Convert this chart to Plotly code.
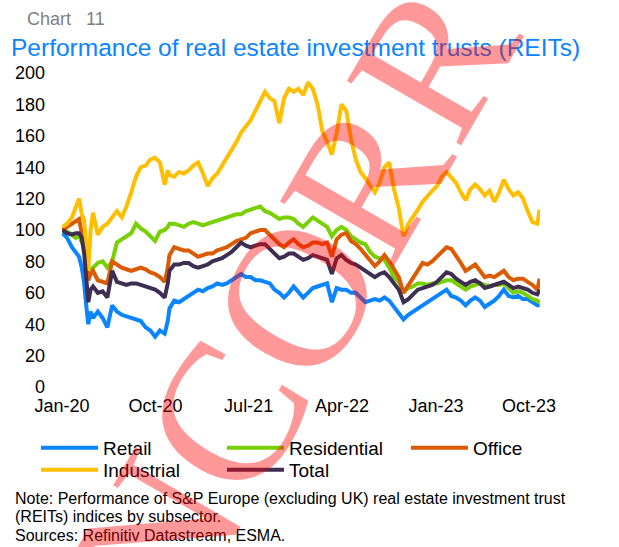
import plotly.graph_objects as go

dates = [
    "2020-01-02", "2020-01-16", "2020-01-30", "2020-02-10", "2020-02-20", "2020-02-28",
    "2020-03-06", "2020-03-12", "2020-03-18", "2020-03-25", "2020-04-01", "2020-04-15",
    "2020-04-29", "2020-05-13", "2020-05-27", "2020-06-10", "2020-06-24", "2020-07-08",
    "2020-07-22", "2020-08-05", "2020-08-19", "2020-09-02", "2020-09-16", "2020-09-30",
    "2020-10-14", "2020-10-28", "2020-11-06", "2020-11-11", "2020-11-25", "2020-12-09",
    "2020-12-23",
    "2021-01-06", "2021-01-20", "2021-02-03", "2021-02-17", "2021-03-03", "2021-03-17",
    "2021-03-31", "2021-04-14", "2021-04-28", "2021-05-12", "2021-05-26", "2021-06-09",
    "2021-06-23", "2021-07-07", "2021-07-21", "2021-08-04", "2021-08-18", "2021-09-01",
    "2021-09-15", "2021-09-29", "2021-10-13", "2021-10-27", "2021-11-10", "2021-11-24",
    "2021-12-08", "2021-12-22",
    "2022-01-05", "2022-01-19", "2022-02-02", "2022-02-16", "2022-03-02", "2022-03-16",
    "2022-03-30", "2022-04-13", "2022-04-27", "2022-05-11", "2022-05-25", "2022-06-08",
    "2022-06-22", "2022-07-06", "2022-07-20", "2022-08-03", "2022-08-17", "2022-08-31",
    "2022-09-14", "2022-09-28", "2022-10-12", "2022-10-26", "2022-11-09", "2022-11-23",
    "2022-12-07", "2022-12-21",
    "2023-01-04", "2023-01-18", "2023-02-01", "2023-02-15", "2023-03-01", "2023-03-15",
    "2023-03-29", "2023-04-12", "2023-04-26", "2023-05-10", "2023-05-24", "2023-06-07",
    "2023-06-21", "2023-07-05", "2023-07-19", "2023-08-02", "2023-08-16", "2023-08-30",
    "2023-09-13", "2023-09-27", "2023-10-11", "2023-10-25", "2023-11-01",
]

retail = [
    98, 95, 89, 86, 83, 76, 66, 52, 40, 48, 44, 48, 44, 38, 52, 48, 46, 45, 44, 43,
    42, 38, 36, 32, 36, 34, 42, 50, 55, 54, 56,
    58, 60, 62, 61, 63, 64, 66, 65, 66, 68, 70, 72, 70, 70, 68, 68, 67, 66, 62, 60,
    57, 60, 64, 60, 57, 60,
    63, 64, 65, 66, 54, 63, 62, 62, 60, 60, 57, 54, 55, 56, 55, 57, 55, 51, 48, 43,
    46, 48, 50, 52, 54, 56,
    58, 60, 62, 58, 57, 55, 52, 55, 57, 55, 51, 53, 55, 58, 62, 58, 57, 58, 56, 56,
    54, 52, 52,
]

residential = [
    100, 99, 97, 95, 97, 92, 90, 80, 74, 75, 76, 79, 80, 76, 80, 92, 94, 96, 98, 104,
    101, 99, 96, 93, 99, 100, 102, 104, 104, 103, 102,
    104, 105, 104, 103, 104, 105, 106, 107, 108, 109, 110, 110, 112, 113, 114, 115, 112,
    111, 109, 107, 108, 108, 107, 104, 102, 105,
    108, 106, 104, 102, 96, 100, 102, 100, 96, 94, 92, 91, 86, 83, 82, 81, 76, 70, 67,
    61, 63, 64, 66, 66, 65, 66,
    66, 67, 68, 68, 66, 64, 62, 64, 65, 66, 65, 64, 65, 65, 66, 63, 60, 61, 60, 58,
    56, 55, 54,
]

office = [
    100, 102, 104, 106, 107, 98, 95, 80, 68, 72, 74, 68, 67, 66, 80, 78, 76, 75, 74, 75,
    76, 75, 73, 72, 70, 67, 76, 84, 89, 88, 87,
    87, 85, 83, 84, 85, 85, 87, 88, 89, 91, 93, 94, 95, 98, 99, 100, 100, 97, 94, 91,
    89, 92, 94, 91, 89, 90,
    92, 92, 91, 92, 83, 94, 97, 98, 93, 91, 88, 84, 80, 77, 80, 84, 80, 75, 70, 60,
    65, 70, 75, 79, 78, 80,
    83, 86, 89, 88, 84, 79, 74, 76, 78, 74, 70, 71, 70, 72, 74, 70, 68, 69, 69, 67,
    65, 62, 69,
]

industrial = [
    102, 104, 108, 115, 120, 110, 106, 90, 74, 100, 111, 97, 102, 104, 108, 112, 108,
    115, 124, 134, 140, 141, 145, 146, 143, 129, 138, 135, 134, 137, 136,
    138, 141, 143, 136, 128, 133, 136, 141, 146, 150, 156, 162, 166, 170, 176, 182, 188,
    184, 182, 168, 184, 190, 188, 190, 186, 194,
    190, 180, 163, 156, 148, 162, 180, 176, 158, 145, 137, 133, 128, 124, 130, 140, 143,
    126, 114, 96, 104, 108, 113, 118, 122, 125,
    128, 134, 137, 133, 130, 124, 119, 126, 129, 126, 122, 125, 118, 124, 132, 126, 122,
    124, 120, 112, 105, 104, 113,
]

total = [
    100, 98, 97, 98, 98, 95, 85, 68, 54, 62, 64, 60, 61, 57, 74, 67, 66, 65, 66, 66,
    65, 64, 63, 62, 60, 57, 66, 74, 78, 78, 79,
    79, 77, 76, 77, 78, 80, 81, 82, 84, 86, 89, 92, 90, 89, 90, 91, 91, 88, 85, 82,
    83, 85, 85, 83, 81, 82,
    84, 83, 82, 81, 72, 82, 84, 81, 79, 78, 76, 74, 72, 70, 72, 73, 70, 66, 62, 54,
    56, 59, 62, 63, 64, 65,
    67, 70, 73, 72, 69, 67, 65, 67, 68, 66, 63, 64, 65, 66, 67, 65, 63, 64, 63, 62,
    60, 59, 62,
]

series_names = ["Retail", "Residential", "Office", "Industrial", "Total"]
series_values = [retail, residential, office, industrial, total]
series_colors = ["#0A84FF", "#78D000", "#DC5A00", "#FFBF00", "#3D2E52"]
series_legend = ["legend", "legend2", "legend3", "legend4", "legend5"]

tick_dates = ["2020-01-01", "2020-10-01", "2021-07-01", "2022-04-01", "2023-01-01", "2023-10-01"]
tick_labels = ["Jan-20", "Oct-20", "Jul-21", "Apr-22", "Jan-23", "Oct-23"]
y_ticks = [0, 20, 40, 60, 80, 100, 120, 140, 160, 180, 200]

FONT = "Arial, Liberation Sans, sans-serif"

fig = go.Figure()
for name, vals, col, lg in zip(series_names, series_values, series_colors, series_legend):
    fig.add_trace(go.Scatter(
        x=dates, y=vals, name=name, mode="lines", legend=lg,
        line=dict(color=col, width=4, shape="linear"),
    ))

W, H = 619, 547
L, R, T, B = 62, 79, 73, 160
pw, ph = W - L - R, H - T - B


def px(x):
    return (x - L) / pw


def py(y):
    return (H - B - y) / ph


annotations = [
    dict(text="Chart&nbsp;&nbsp;&nbsp;11", x=px(25), y=py(19), xanchor="left", yanchor="middle",
         font=dict(size=18, color="#7F7F7F", family=FONT)),
    dict(text="Performance of real estate investment trusts (REITs)", x=px(9), y=py(47),
         xanchor="left", yanchor="middle", font=dict(size=24.5, color="#0A84FF", family=FONT)),
    dict(text="Note: Performance of S&P Europe (excluding UK) real estate investment trust",
         x=px(13), y=py(498), xanchor="left", yanchor="middle",
         font=dict(size=16, color="#000000", family=FONT)),
    dict(text="(REITs) indices by subsector.", x=px(13), y=py(516), xanchor="left",
         yanchor="middle", font=dict(size=16, color="#000000", family=FONT)),
    dict(text="Sources: Refinitiv Datastream, ESMA.", x=px(13), y=py(535), xanchor="left",
         yanchor="middle", font=dict(size=16, color="#000000", family=FONT)),
]

# watermark glyphs (translucent red, diagonal)
wm = [("N", 156, 537, -60), ("C", 225, 417, -60), ("O", 295, 297, -60),
      ("R", 365, 180, -60), ("R", 433, 60, -60)]
for ch, x0, y0, ang in wm:
    annotations.append(dict(
        text=ch, x=px(x0), y=py(y0), xanchor="center", yanchor="middle", textangle=ang,
        font=dict(size=200, color="rgba(255,0,0,0.4)", family="Liberation Serif, serif"),
    ))
for a in annotations:
    a.update(xref="paper", yref="paper", showarrow=False)

legend_common = dict(orientation="h", xanchor="left", yanchor="top", itemwidth=57,
                     font=dict(size=19, family=FONT), bgcolor="rgba(0,0,0,0)")
# legend entry anchor points (left edge, top edge) in pixels
legend_pos = {"legend": (36, 429), "legend2": (222, 429), "legend3": (406, 429),
              "legend4": (36, 451), "legend5": (222, 451)}
legend_layout = {k: dict(x=px(v[0]), y=py(v[1]), **legend_common) for k, v in legend_pos.items()}

fig.update_layout(
    width=W, height=H,
    margin=dict(l=L, r=R, t=T, b=B, pad=0),
    paper_bgcolor="white", plot_bgcolor="white",
    font=dict(family=FONT, size=18, color="#000000"),
    showlegend=True,
    xaxis=dict(type="date", range=["2020-01-01", "2023-11-02"], showgrid=False,
               zeroline=False, showline=False, tickmode="array", tickvals=tick_dates,
               ticktext=tick_labels, ticks="", tickfont=dict(size=18, family=FONT),
               ticklabelstandoff=6),
    yaxis=dict(range=[0, 200], showgrid=False, zeroline=False, showline=False,
               tickmode="array", tickvals=y_ticks, ticks="",
               tickfont=dict(size=18, family=FONT), ticklabelstandoff=16),
    annotations=annotations,
    **legend_layout,
)

fig.write_html("out.html", config={"displayModeBar": False},
               post_script="document.body.style.margin='0';document.body.style.padding='0';")
